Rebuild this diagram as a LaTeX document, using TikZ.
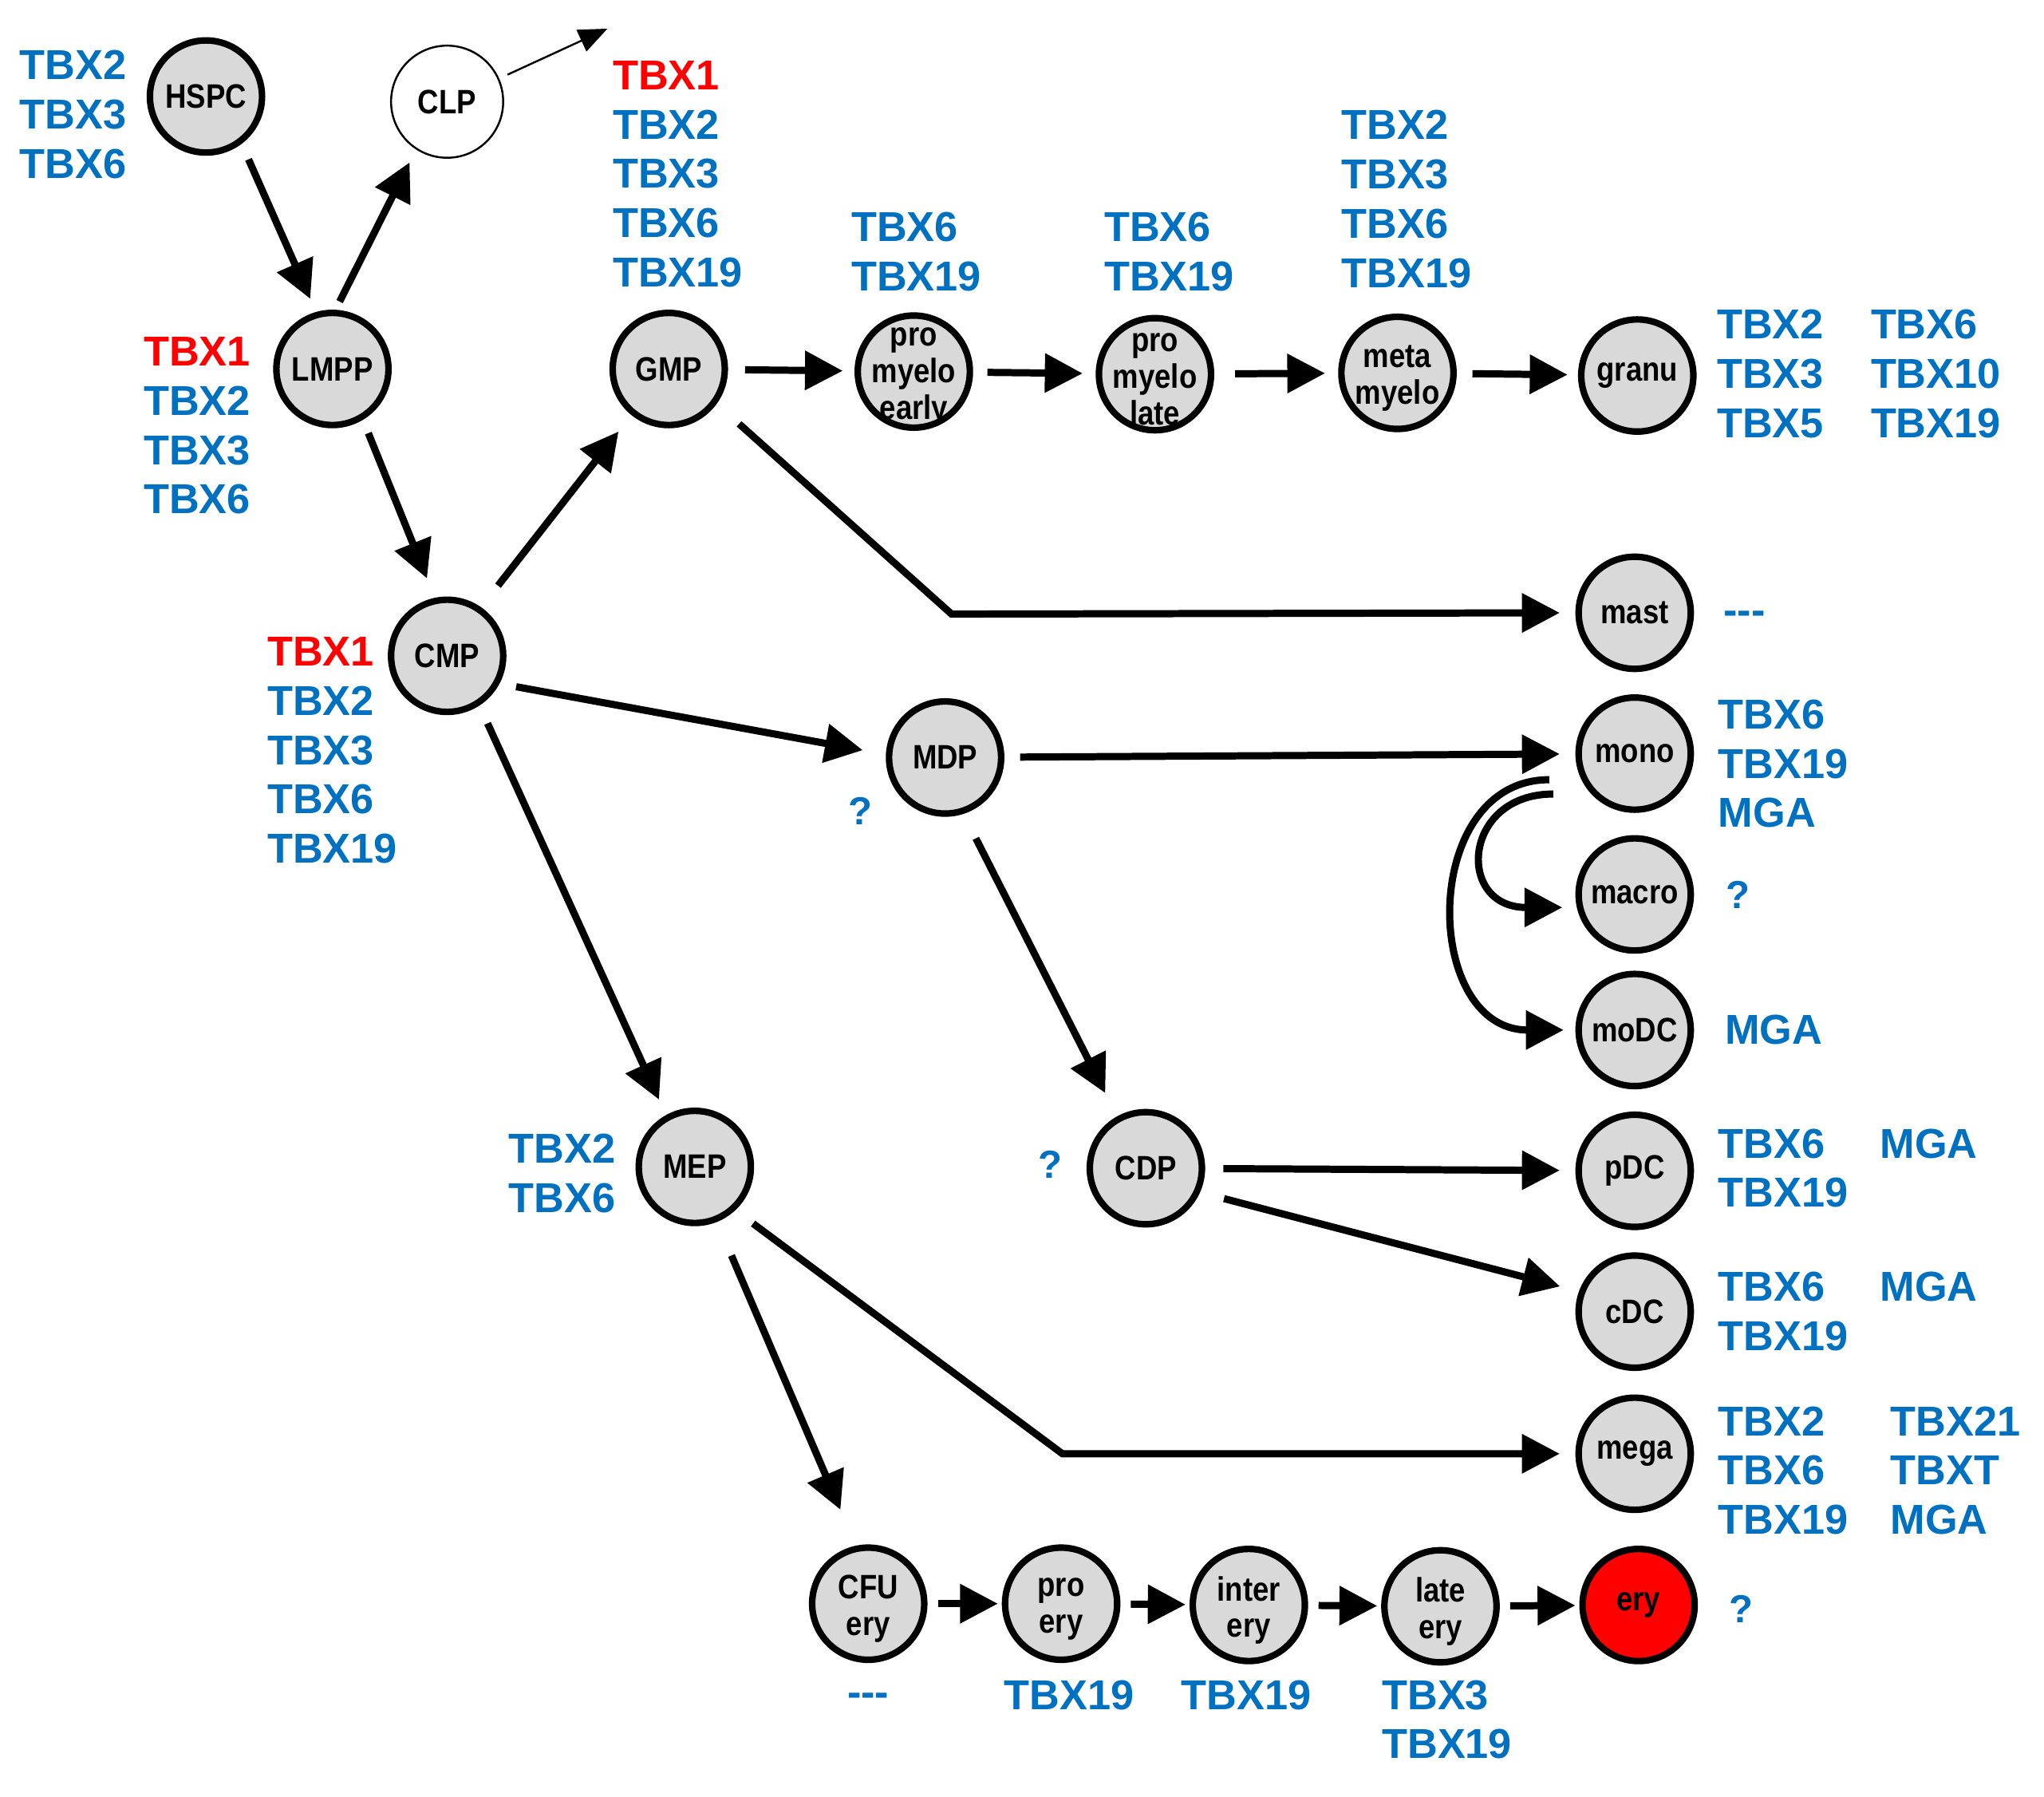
\documentclass[tikz,border=0pt]{standalone}
\usepackage{fontspec}
\setmainfont{Liberation Sans}
\newfontfamily\cellfont[FakeStretch=0.86]{Liberation Sans}
\usetikzlibrary{arrows.meta}
\definecolor{tbxblue}{RGB}{0,112,192}
\definecolor{tbxred}{RGB}{255,0,0}
\definecolor{cellgray}{RGB}{217,217,217}
\definecolor{eryred}{RGB}{255,0,0}
\begin{document}
\begin{tikzpicture}[x=1pt,y=-1pt,
  cell/.style={circle, draw=black, line width=5pt, fill=cellgray, minimum size=86pt, inner sep=0pt},
  clpcell/.style={circle, draw=black, line width=1.5pt, fill=white, minimum size=86pt, inner sep=0pt},
  celltext/.style={font=\cellfont\bfseries\fontsize{26}{28}\selectfont, align=center, inner sep=0pt, text=black},
  celltextml/.style={celltext, yshift=-4pt},
  gene/.style={font=\bfseries\fontsize{32}{37.8}\selectfont, text=tbxblue, align=left, inner sep=0pt, anchor=north west},
  qmark/.style={font=\bfseries\fontsize{30}{36}\selectfont, text=tbxblue, inner sep=0pt},
  dashlbl/.style={font=\bfseries\fontsize{32}{37.8}\selectfont, text=tbxblue, inner sep=0pt},
  arr/.style={line width=5.5pt, -{Triangle[length=29pt,width=29pt]}},
  thinarr/.style={line width=1.5pt, -{Triangle[length=22pt,width=18pt]}},
]
\useasboundingbox (0,0) rectangle (1568,1378);

% ---------- cells ----------
\node[cell] (hspc) at (158,74) {};
\node[clpcell] (clp) at (343,78) {};
\node[cell] (lmpp) at (255,283) {};
\node[cell] (gmp) at (513,283) {};
\node[cell] (cmp) at (343,503) {};
\node[cell] (proE) at (701,285) {};
\node[cell] (proL) at (886,287) {};
\node[cell] (meta) at (1072,286) {};
\node[cell] (granu) at (1256,288) {};
\node[cell] (mast) at (1254,470) {};
\node[cell] (mdp) at (725,581) {};
\node[cell] (mono) at (1254,578) {};
\node[cell] (macro) at (1254,686) {};
\node[cell] (modc) at (1254,790) {};
\node[cell] (mep) at (533,895) {};
\node[cell] (cdp) at (879,896) {};
\node[cell] (pdc) at (1254,898) {};
\node[cell] (cdc) at (1254,1006) {};
\node[cell] (mega) at (1254,1115) {};
\node[cell] (cfu) at (666,1230) {};
\node[cell] (proery) at (814,1230) {};
\node[cell] (inter) at (958,1231) {};
\node[cell] (late) at (1105,1232) {};
\node[cell, fill=eryred] (ery) at (1257,1231) {};

% ---------- cell texts ----------
\node[celltext] (hspc-t) at (hspc) {HSPC};
\node[celltext] (clp-t) at (clp) {CLP};
\node[celltext] (lmpp-t) at (lmpp) {LMPP};
\node[celltext] (gmp-t) at (gmp) {GMP};
\node[celltext] (cmp-t) at (cmp) {CMP};
\node[celltextml] (proE-t) at (proE) {pro\\myelo\\early};
\node[celltextml] (proL-t) at (proL) {pro\\myelo\\late};
\node[celltextml] (meta-t) at (meta) {meta\\myelo};
\node[celltext] (granu-t) at (granu) {granu};
\node[celltext] (mast-t) at (mast) {mast};
\node[celltext] (mdp-t) at (mdp) {MDP};
\node[celltext] (mono-t) at (mono) {mono};
\node[celltext] (macro-t) at (macro) {macro};
\node[celltext] (modc-t) at (modc) {moDC};
\node[celltext] (mep-t) at (mep) {MEP};
\node[celltext] (cdp-t) at (cdp) {CDP};
\node[celltext] (pdc-t) at (pdc) {pDC};
\node[celltext] (cdc-t) at (cdc) {cDC};
\node[celltext] (mega-t) at (mega) {mega};
\node[celltextml] (cfu-t) at (cfu) {CFU\\ery};
\node[celltextml] (proery-t) at (proery) {pro\\ery};
\node[celltextml] (inter-t) at (inter) {inter\\ery};
\node[celltextml] (late-t) at (late) {late\\ery};
\node[celltext] (ery-t) at (ery) {ery};

% ---------- gene labels ----------
\node[gene] (hspc-g) at (15,38.5) {TBX2\\TBX3\\TBX6};
\node[gene] (lmpp-g) at (110,258.5) {{\color{tbxred}TBX1}\\TBX2\\TBX3\\TBX6};
\node[gene] (gmp-g) at (470,46.5) {{\color{tbxred}TBX1}\\TBX2\\TBX3\\TBX6\\TBX19};
\node[gene] (proE-g) at (653,162.5) {TBX6\\TBX19};
\node[gene] (proL-g) at (847,162.5) {TBX6\\TBX19};
\node[gene] (meta-g) at (1029,84.5) {TBX2\\TBX3\\TBX6\\TBX19};
\node[gene] (granu-g1) at (1317,237.5) {TBX2\\TBX3\\TBX5};
\node[gene] (granu-g2) at (1435,237.5) {TBX6\\TBX10\\TBX19};
\node[dashlbl, anchor=west] (mast-g) at (1322,473.7) {-{}-{}-};
\node[gene] (cmp-g) at (205,488.5) {{\color{tbxred}TBX1}\\TBX2\\TBX3\\TBX6\\TBX19};
\node[qmark] (mdp-g) at (660,622) {?};
\node[gene] (mono-g) at (1318,536.5) {TBX6\\TBX19\\MGA};
\node[qmark] (macro-g) at (1333,686) {?};
\node[gene] (modc-g) at (1323,778.5) {MGA};
\node[gene] (mep-g) at (390,869.5) {TBX2\\TBX6};
\node[qmark] (cdp-g) at (806,893) {?};
\node[gene] (pdc-g1) at (1318,865.5) {TBX6\\TBX19};
\node[gene] (pdc-g2) at (1442,865.5) {MGA};
\node[gene] (cdc-g1) at (1318,975.5) {TBX6\\TBX19};
\node[gene] (cdc-g2) at (1442,975.5) {MGA};
\node[gene] (mega-g1) at (1318,1078.5) {TBX2\\TBX6\\TBX19};
\node[gene] (mega-g2) at (1450,1078.5) {TBX21\\TBXT\\MGA};
\node[qmark] (ery-g) at (1336,1234) {?};
\node[dashlbl] (cfu-g) at (666,1303.7) {-{}-{}-};
\node[gene, anchor=north] (proery-g) at (820,1288.5) {TBX19};
\node[gene, anchor=north] (inter-g) at (956,1288.5) {TBX19};
\node[gene] (late-g) at (1060,1288.5) {TBX3\\TBX19};

% ---------- helper coordinates ----------
\coordinate (clpout) at (466,22);
\coordinate (b1) at (730,471);
\coordinate (b2) at (815,1115);

% ---------- connectors ----------
\draw[arr, shorten <=13pt, shorten >=11pt] (hspc.-53.5) -- (lmpp.106);
\draw[arr, shorten <=7pt, shorten >=11pt] (lmpp.87) -- (clp.-123);
\draw[thinarr, shorten <=7pt] (clp.24) -- (clpout);
\draw[arr, shorten <=11pt, shorten >=16pt] (lmpp.-59) -- (cmp.102);
\draw[arr, shorten <=21pt, shorten >=16pt] (cmp.55.6) -- (gmp.-129);
\draw[arr, shorten <=13pt, shorten >=9pt] (gmp) -- (proE);
\draw[arr, shorten <=11pt, shorten >=10pt] (proE) -- (proL);
\draw[arr, shorten <=16pt, shorten >=10pt] (proL) -- (meta);
\draw[arr, shorten <=12pt, shorten >=8pt] (meta) -- (granu);
\draw[arr, shorten <=23pt, shorten >=12pt] (gmp.-36.5) -- (b1) -- (mast.west);
\draw[arr, shorten <=13pt, shorten >=18pt] (cmp.-28) -- (mdp.177);
\draw[arr, shorten <=12pt, shorten >=12pt] (mdp) -- (mono);
\draw[arr, shorten <=15pt, shorten >=13pt] (cmp.-57) -- (mep.119);
\draw[arr, shorten <=21pt, shorten >=20pt] (mdp.-72) -- (cdp.119);
\draw[arr, shorten >=10pt] ([xshift=-17pt,yshift=-31pt]mono.west) .. controls +(-70,0) and +(-92,0) .. ([yshift=-10pt]macro.west);
\draw[arr, shorten >=9pt] ([xshift=-20pt,yshift=-20pt]mono.west) .. controls +(-100,0) and +(-118,0) .. (modc.west);
\draw[arr, shorten <=14pt, shorten >=12pt] (cdp) -- (pdc);
\draw[arr, shorten <=19pt, shorten >=15pt] (cdp.-24) -- (cdc.160);
\draw[arr, shorten <=17pt, shorten >=12pt] (mep.-47) -- (b2) -- (mega.west);
\draw[arr, shorten <=28pt, shorten >=30pt] (mep.-68) -- (cfu.102.5);
\draw[arr, shorten <=8pt, shorten >=3pt] (cfu) -- (proery);
\draw[arr, shorten <=8pt, shorten >=3pt] (proery) -- (inter);
\draw[arr, shorten <=8pt, shorten >=3pt] (inter) -- (late);
\draw[arr, shorten <=8pt, shorten >=3pt] (late) -- (ery);
\end{tikzpicture}
\end{document}
